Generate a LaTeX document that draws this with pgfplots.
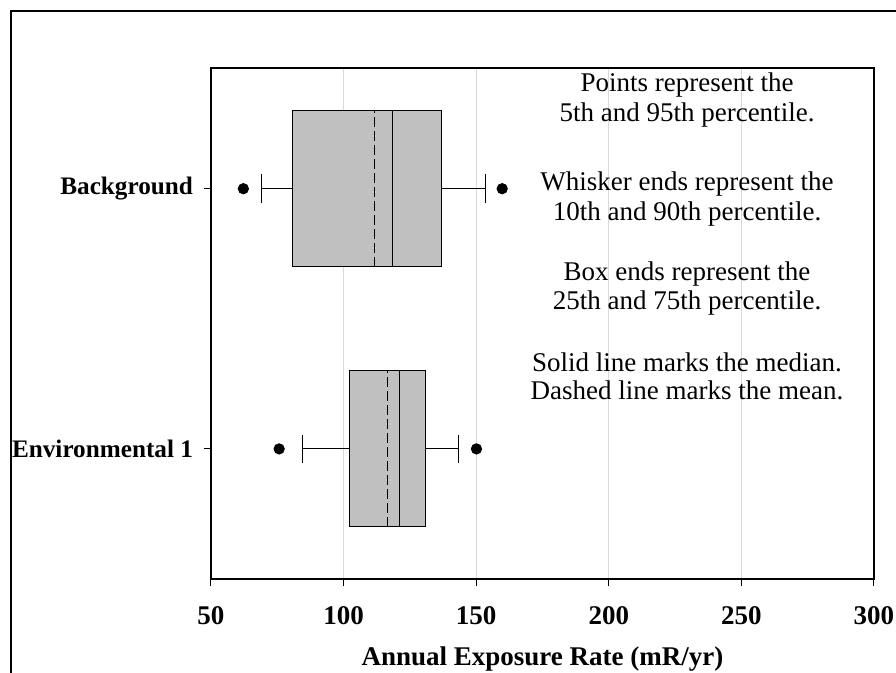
\documentclass[border=0pt]{standalone}
\usepackage{fontspec}
\setmainfont{Liberation Serif}
\usepackage{pgfplots}
\pgfplotsset{compat=1.18}
\usepgfplotslibrary{statistics}
\definecolor{boxgray}{RGB}{192,192,192}
\definecolor{gridgray}{RGB}{217,217,217}
\begin{document}
\begin{tikzpicture}
\useasboundingbox (0,0) rectangle (448pt,336.5pt);
\draw[line width=1pt] (5.5pt,0) -- (5.5pt,330.75pt) -- (448pt,330.75pt);
\begin{axis}[
  at={(105.5pt,47pt)}, anchor=south west,
  scale only axis, width=331.5pt, height=255.5pt,
  xmin=50, xmax=300, ymin=0.5, ymax=2.464,
  xtick={50,100,150,200,250,300},
  ytick={1,2}, yticklabels={Environmental 1, Background},
  tick align=outside, major tick length=3.5pt,
  xtick pos=left, ytick pos=left,
  xmajorgrids, grid style={draw=gridgray, line width=0.5pt},
  font=\fontsize{13.5}{16}\selectfont,
  xticklabel style={font=\fontsize{13.5}{16}\selectfont\bfseries, yshift=-6.5pt},
  yticklabel style={font=\fontsize{12.6}{15}\selectfont\bfseries, xshift=-2pt},
  /pgf/number format/assume math mode=true,
  xlabel={\bfseries Annual Exposure Rate (mR/yr)},
  xlabel style={yshift=-4.5pt},
  axis line style={line width=0.6pt},
  tick style={black, line width=0.5pt},
  boxplot/draw direction=x,
]
\addplot[boxplot prepared={lower whisker=69.0, lower quartile=80.7, median=118.3,
   upper quartile=136.9, upper whisker=153.4, draw position=2,
   box extend=0.6, whisker extend=0.11},
   draw=black, fill=boxgray, line width=0.5pt] coordinates {};
\addplot[boxplot prepared={lower whisker=84.5, lower quartile=102.4, median=121.2,
   upper quartile=131.0, upper whisker=143.2, draw position=1,
   box extend=0.6, whisker extend=0.11},
   draw=black, fill=boxgray, line width=0.5pt] coordinates {};
% means (dashed)
\addplot[black, line width=0.5pt, dash pattern=on 5pt off 2pt] coordinates {(111.8,1.7) (111.8,2.3)};
\addplot[black, line width=0.5pt, dash pattern=on 5pt off 2pt] coordinates {(116.7,0.7) (116.7,1.3)};
% 5th and 95th percentiles
\addplot[only marks, mark=*, mark size=2.6pt, black] coordinates {(62.2,2) (159.8,2) (75.7,1) (150.1,1)};
% notes
\node at (axis cs:229.5,2.40) {Points represent the};
\node at (axis cs:229.5,2.285) {5th and 95th percentile.};
\node at (axis cs:229.5,2.02) {Whisker ends represent the};
\node at (axis cs:229.5,1.904) {10th and 90th percentile.};
\node at (axis cs:229.5,1.674) {Box ends represent the};
\node at (axis cs:229.5,1.562) {25th and 75th percentile.};
\node at (axis cs:229.5,1.332) {Solid line marks the median.};
\node at (axis cs:229.5,1.224) {Dashed line marks the mean.};
\end{axis}
\end{tikzpicture}
\end{document}
